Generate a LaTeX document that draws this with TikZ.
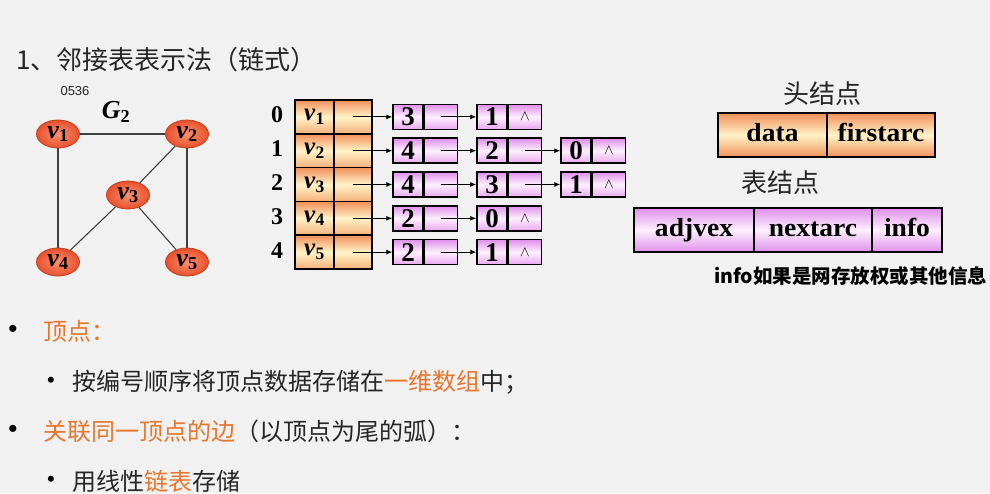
\documentclass[tikz,border=0pt]{standalone}
\usepackage{fontspec}
\setmainfont{Liberation Serif}
\newfontfamily\cjk{Noto Sans CJK SC}
\newfontfamily\arial{Liberation Sans}
\newfontfamily\wide[FakeStretch=1.06]{Liberation Serif}
\usepackage{xcolor}
\usetikzlibrary{shapes.geometric}
\usetikzlibrary{arrows.meta}

\definecolor{bggray}{HTML}{F1F1F1}
\definecolor{txtdark}{HTML}{262626}
\definecolor{hiorange}{HTML}{E6772E}
\definecolor{hdtop}{HTML}{F2905A}
\definecolor{hdmid}{HTML}{FFF3C8}
\definecolor{hdbot}{HTML}{F6B07A}
\definecolor{lstop}{HTML}{DF8FEA}
\definecolor{lsmid}{HTML}{FDF0FD}
\definecolor{lsbot}{HTML}{E9A8F0}
\definecolor{vxin}{HTML}{FA9070}
\definecolor{vxout}{HTML}{E8502A}

\newcommand{\vtx}[1]{\textbf{\textit{v}}\textsubscript{\textbf{#1}}}

\tikzset{
	vert/.style={ellipse, draw=vxout!80!black, line width=0.8pt, inner color=vxin, outer color=vxout,
		minimum width=43pt, minimum height=28pt, inner sep=0pt, font=\fontsize{26}{26}\selectfont},
	gedge/.style={draw=black!75, line width=1.1pt},
	hdcell/.style={draw, line width=1.5pt, top color=hdtop, bottom color=hdbot, middle color=hdmid,
		minimum height=33.8pt, inner sep=0pt, font=\fontsize{25}{25}\selectfont},
	hdval/.style={hdcell, minimum width=39pt},
	hdptr/.style={hdcell, minimum width=38pt},
	lscell/.style={draw, line width=1.5pt, top color=lstop, bottom color=lsbot, middle color=lsmid,
		minimum height=25pt, inner sep=0pt, font=\bfseries\fontsize{27}{27}\selectfont},
	lsnum/.style={lscell, minimum width=30pt},
	lsptr/.style={lscell, minimum width=33pt, anchor=west, font=\fontsize{14}{14}\selectfont},
	link/.style={-{Latex[length=6pt,width=5pt]}, line width=0.9pt},
	idx/.style={font=\bfseries\fontsize{24}{24}\selectfont},
	legcell/.style={draw, line width=1.5pt, minimum height=44pt, inner sep=0pt,
		text height=17pt, text depth=5pt, font=\wide\bfseries\fontsize{26}{26}\selectfont},
	headleg/.style={legcell, top color=hdtop, bottom color=hdtop, middle color=hdmid},
	arcleg/.style={legcell, top color=lstop, bottom color=lstop, middle color=lsmid},
	cjktxt/.style={anchor=west, inner sep=0pt, text=txtdark, font=\cjk\fontsize{24}{24}\selectfont},
	bul/.style={inner sep=0pt, text=black, font=\arial\fontsize{26}{26}\selectfont}
}

\begin{document}
\begin{tikzpicture}[x=1pt,y=-1pt]
		\fill[bggray] (0,0) rectangle (990,493);
		\useasboundingbox (0,0) rectangle (990,493);

		% title
		\node[cjktxt, font=\cjk\fontsize{26}{26}\selectfont] (title) at (16,60) {1、邻接表表示法（链式）};
		\node[inner sep=0pt, text=txtdark, font=\arial\fontsize{13}{13}\selectfont] (code) at (75,91) {0536};

		% graph G2
		\node[font=\fontsize{26}{26}\selectfont] (gname) at (116,112) {\textbf{\textit{G}}\textsubscript{\textbf{2}}};
		\node[vert] (v1) at (58,134) {\vtx{1}};
		\node[vert] (v2) at (187,134) {\vtx{2}};
		\node[vert] (v3) at (128,195) {\vtx{3}};
		\node[vert] (v4) at (58,262) {\vtx{4}};
		\node[vert] (v5) at (187,262) {\vtx{5}};
		\draw[gedge] (v1) -- (v2);
		\draw[gedge] (v1) -- (v4);
		\draw[gedge] (v2) -- (v3);
		\draw[gedge] (v2) -- (v5);
		\draw[gedge] (v3) -- (v4);
		\draw[gedge] (v3) -- (v5);

		% head nodes
		\node[idx] (i0) at (277,115) {0};
		\node[idx] (i1) at (277,149) {1};
		\node[idx] (i2) at (277,183) {2};
		\node[idx] (i3) at (277,217) {3};
		\node[idx] (i4) at (277,251) {4};
		\node[hdval] (h0) at (314.5,116.9) {\vtx{1}};
		\node[hdval] (h1) at (314.5,150.7) {\vtx{2}};
		\node[hdval] (h2) at (314.5,184.5) {\vtx{3}};
		\node[hdval] (h3) at (314.5,218.3) {\vtx{4}};
		\node[hdval] (h4) at (314.5,252.1) {\vtx{5}};
		\node[hdptr] (h0p) at (353,116.9) {};
		\node[hdptr] (h1p) at (353,150.7) {};
		\node[hdptr] (h2p) at (353,184.5) {};
		\node[hdptr] (h3p) at (353,218.3) {};
		\node[hdptr] (h4p) at (353,252.1) {};

		% arc nodes
		\node[lsnum] (n01) at (408,116.9) {3};
		\node[lsptr] (n01p) at (n01.east) {};
		\node[lsnum] (n02) at (492,116.9) {1};
		\node[lsptr] (n02p) at (n02.east) {$\wedge$};

		\node[lsnum] (n11) at (408,150.7) {4};
		\node[lsptr] (n11p) at (n11.east) {};
		\node[lsnum] (n12) at (492,150.7) {2};
		\node[lsptr] (n12p) at (n12.east) {};
		\node[lsnum] (n13) at (576,150.7) {0};
		\node[lsptr] (n13p) at (n13.east) {$\wedge$};

		\node[lsnum] (n21) at (408,184.5) {4};
		\node[lsptr] (n21p) at (n21.east) {};
		\node[lsnum] (n22) at (492,184.5) {3};
		\node[lsptr] (n22p) at (n22.east) {};
		\node[lsnum] (n23) at (576,184.5) {1};
		\node[lsptr] (n23p) at (n23.east) {$\wedge$};

		\node[lsnum] (n31) at (408,218.3) {2};
		\node[lsptr] (n31p) at (n31.east) {};
		\node[lsnum] (n32) at (492,218.3) {0};
		\node[lsptr] (n32p) at (n32.east) {$\wedge$};

		\node[lsnum] (n41) at (408,252.1) {2};
		\node[lsptr] (n41p) at (n41.east) {};
		\node[lsnum] (n42) at (492,252.1) {1};
		\node[lsptr] (n42p) at (n42.east) {$\wedge$};

		\draw[link] (h0p.center) -- (n01.west);
		\draw[link] (n01p.center) -- (n02.west);
		\draw[link] (h1p.center) -- (n11.west);
		\draw[link] (n11p.center) -- (n12.west);
		\draw[link] (n12p.center) -- (n13.west);
		\draw[link] (h2p.center) -- (n21.west);
		\draw[link] (n21p.center) -- (n22.west);
		\draw[link] (n22p.center) -- (n23.west);
		\draw[link] (h3p.center) -- (n31.west);
		\draw[link] (n31p.center) -- (n32.west);
		\draw[link] (h4p.center) -- (n41.west);
		\draw[link] (n41p.center) -- (n42.west);

		% legend
		\node[cjktxt, anchor=center, font=\cjk\fontsize{26}{26}\selectfont] (headname) at (822,94) {头结点};
		\node[headleg, minimum width=109pt] (data) at (772.5,135) {data};
		\node[headleg, minimum width=108pt] (first) at (881,135) {firstarc};
		\node[cjktxt, anchor=center, font=\cjk\fontsize{26}{26}\selectfont] (arcname) at (780,183) {表结点};
		\node[arcleg, minimum width=120pt] (adj) at (694,230) {adjvex};
		\node[arcleg, minimum width=118pt] (next) at (813,230) {nextarc};
		\node[arcleg, minimum width=70pt] (info) at (907,230) {info};
		\node[cjktxt, text=black, font=\cjk\bfseries\fontsize{19.5}{19.5}\selectfont] (note) at (714,276) {info如果是网存放权或其他信息};

		% bullet text
		\node[bul] (b1) at (13,331) {•};
		\node[cjktxt, text=hiorange] (t1) at (43,331) {顶点：};
		\node[bul, font=\arial\fontsize{22}{22}\selectfont] (b2) at (51,382) {•};
		\node[cjktxt] (t2) at (72,382) {按编号顺序将顶点数据存储在{\color{hiorange}一维数组}中；};
		\node[bul] (b3) at (13,431) {•};
		\node[cjktxt] (t3) at (43,431) {{\color{hiorange}关联同一顶点的边}（以顶点为尾的弧）：};
		\node[bul, font=\arial\fontsize{22}{22}\selectfont] (b4) at (51,481) {•};
		\node[cjktxt] (t4) at (72,481) {用线性{\color{hiorange}链表}存储};

	\end{tikzpicture}
\end{document}
